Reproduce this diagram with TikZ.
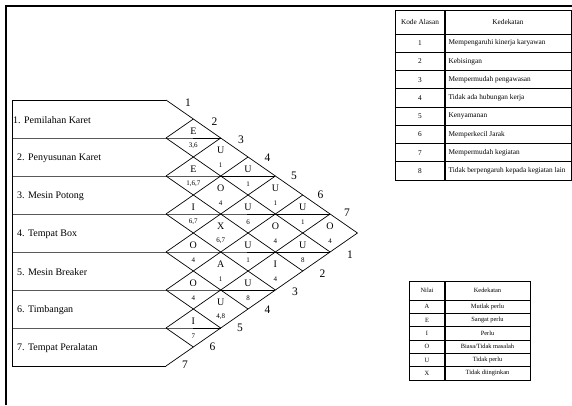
\documentclass[tikz,border=0pt]{standalone}
\usepackage{fontspec}
\setmainfont{Liberation Serif}
\usepackage{tikz}
\usetikzlibrary{positioning}

\begin{document}
\begin{tikzpicture}[x=1pt, y=-1pt,
  garis/.style={line width=0.7pt},
  nilai/.style={font=\fontsize{10}{10}\selectfont, inner sep=0pt},
  kode/.style={font=\fontsize{7}{7}\selectfont, inner sep=0pt},
  nomor/.style={font=\fontsize{11.5}{11.5}\selectfont, inner sep=0pt},
  baris/.style={font=\fontsize{10}{10}\selectfont, inner sep=0pt},
  sel/.style={font=\fontsize{7.3}{7.3}\selectfont, inner sep=0pt},
  selkecil/.style={font=\fontsize{6.4}{6.4}\selectfont, inner sep=0pt}]
\useasboundingbox (0,0) rectangle (572,405);
\def\u{27.35}

% Bingkai
\draw[line width=2pt] (6,405) -- (6,6) -- (572,6);

% Kotak kegiatan dan jaringan
\foreach \k in {0,...,7} {
  \coordinate (a\k) at (12,{100+38*\k});
  \coordinate (b\k) at (166,{100+38*\k});
}
\draw[line width=0.9pt] (a0) -- (a7);
\foreach \k in {0,...,7}
  \draw[line width=0.9pt] (a\k) -- (b\k) -- ++({\u*min(2*\k,14-2*\k)},0);
\foreach \k in {0,...,6}
  \draw[garis] (b\k) -- ++({\u*(7-\k)},{19*(7-\k)});
\foreach \k in {1,...,7}
  \draw[garis] (b\k) -- ++({\u*\k},{-19*\k});

% Nama kegiatan
\foreach \i/\dx/\nama in {1/1/{1. Pemilahan Karet}, 2/5/{2. Penyusunan Karet},
    3/5/{3. Mesin Potong}, 4/5/{4. Tempat Box}, 5/5/{5. Mesin Breaker},
    6/5/{6. Timbangan}, 7/5/{7. Tempat Peralatan}} {
  \coordinate (m\i) at (12,{120+38*(\i-1)});
  \node[baris, right=\dx pt of m\i] (n\i) {\nama};
}

% Hubungan
\foreach \i/\j/\nil/\als in {1/2/E/{3,6}, 1/3/U/1, 2/3/E/{1,6,7}, 1/4/U/1,
    2/4/O/4, 1/5/U/1, 3/4/I/{6,7}, 2/5/U/6, 1/6/U/1, 3/5/X/{6,7}, 2/6/O/4,
    1/7/O/4, 4/5/O/4, 3/6/U/1, 2/7/U/8, 4/6/A/1, 3/7/I/4, 5/6/O/4, 4/7/U/8,
    5/7/U/{4,8}, 6/7/I/7} {
  \node[nilai] (r\i\j) at ({166+\u*(\j-\i)},{100+19*(\i+\j-1)-6.5}) {\nil};
  \node[kode] (w\i\j) at ({166+\u*(\j-\i)},{100+19*(\i+\j-1)+8}) {\als};
}

% Nomor tepi
\foreach \j in {1,...,7} {
  \node[nomor] (t\j) at ({188+26.5*(\j-1)},{103+18.3*(\j-1)}) {\j};
  \node[nomor] (s\j) at ({350-27.5*(\j-1)},{255+18.3*(\j-1)}) {\j};
}

% Tabel alasan
\draw[garis] (395,10) rectangle (571,180);
\foreach \n in {0,...,7}
  \draw[garis] (395,{34+18.25*\n}) -- (571,{34+18.25*\n});
\draw[line width=1.2pt] (445,10) -- (445,180);
\node[sel] (ka) at (420,22) {Kode Alasan};
\node[sel] (kd) at (508,22) {Kedekatan};
\foreach \n/\teks in {1/{Mempengaruhi kinerja karyawan}, 2/Kebisingan,
    3/{Mempermudah pengawasan}, 4/{Tidak ada hubungan kerja}, 5/Kenyamanan,
    6/{Memperkecil Jarak}, 7/{Mempermudah kegiatan},
    8/{Tidak berpengaruh kepada kegiatan lain}} {
  \node[sel] (k\n) at (420,{34+18.25*(\n-0.5)}) {\n};
  \coordinate (g\n) at (445,{34+18.25*(\n-0.5)});
  \node[sel, right=3.5pt of g\n] (e\n) {\teks};
}

% Tabel nilai
\draw[garis] (409,281) rectangle (530,380);
\foreach \n in {0,...,5}
  \draw[garis] (409,{300+13.33*\n}) -- (530,{300+13.33*\n});
\draw[line width=1.2pt] (445,281) -- (445,380);
\node[selkecil] (nh) at (427,290.5) {Nilai};
\node[selkecil] (nk) at (487.5,290.5) {Kedekatan};
\foreach \n/\hrf/\teks in {1/A/{Mutlak perlu}, 2/E/{Sangat perlu}, 3/I/Perlu,
    4/O/{Biasa/Tidak masalah}, 5/U/{Tidak perlu}, 6/X/{Tidak diinginkan}} {
  \node[selkecil] (v\n) at (427,{300+13.33*(\n-0.5)}) {\hrf};
  \node[selkecil] (d\n) at (487.5,{300+13.33*(\n-0.5)}) {\teks};
}
\end{tikzpicture}
\end{document}
